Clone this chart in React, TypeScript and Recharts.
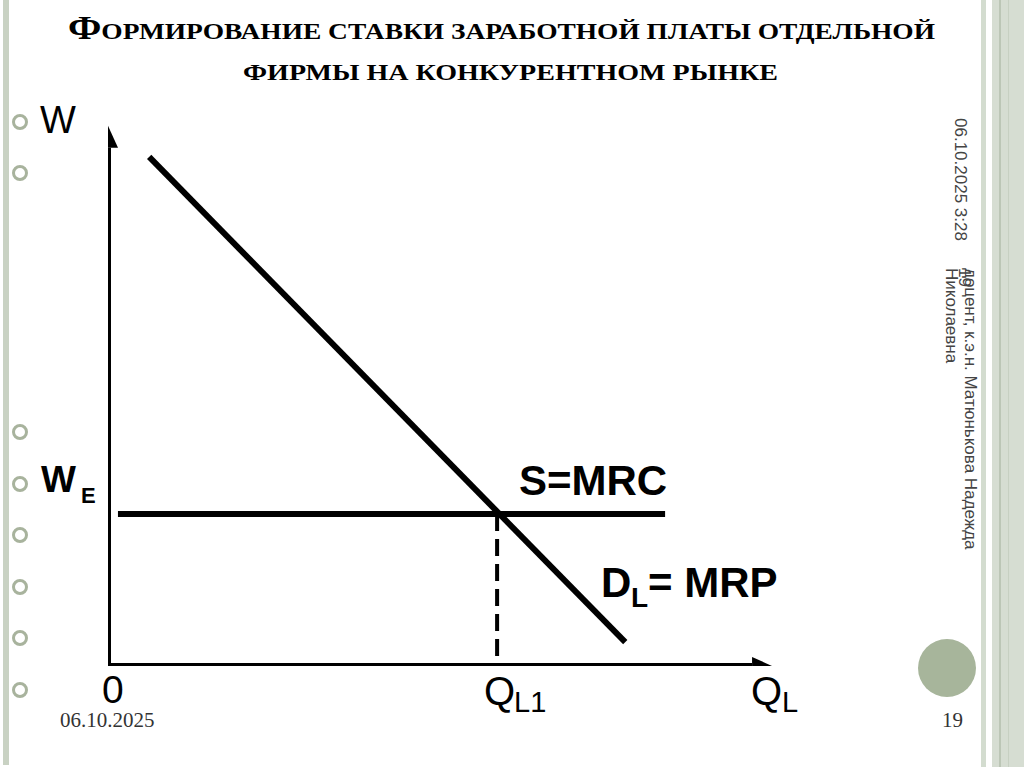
import React from "react";
import { ComposedChart, Line, XAxis, YAxis } from "recharts";

// ---- data (x: labour quantity in % of axis, y: wage in % of axis) ----
const demandCurve = [
  { x: 6.2, y: 94.1 },
  { x: 77.9, y: 4.4 },
];
const supplyCurve = [
  { x: 1.5, y: 28.1 },
  { x: 83.9, y: 28.1 },
];
const equilibriumDrop = [
  { x: 58.6, y: 28.1 },
  { x: 58.6, y: 0 },
];
const xAxisLine = [
  { x: -0.6, y: 0 },
  { x: 97.0, y: 0 },
];
const yAxisLine = [
  { x: 0, y: -0.6 },
  { x: 0, y: 95.8 },
];

const titleFirst = "Ф";
const titleRest1 = "ормирование ставки заработной платы отдельной";
const titleLine2 = "фирмы на конкурентном рынке";
const bulletYs = [122, 173, 432, 484, 535, 587, 638, 690];

const arrowRight = (props: any) => {
  const { cx, cy, index } = props;
  if (index !== 1) return <g key={`ar-${index}`} />;
  return (
    <polygon
      key={`ar-${index}`}
      points={`${cx},${cy - 9} ${cx + 20},${cy} ${cx},${cy + 9}`}
      fill="#000"
    />
  );
};
const arrowUp = (props: any) => {
  const { cx, cy, index } = props;
  if (index !== 1) return <g key={`au-${index}`} />;
  return (
    <polygon
      key={`au-${index}`}
      points={`${cx - 10},${cy} ${cx},${cy - 22} ${cx + 10},${cy}`}
      fill="#000"
    />
  );
};

const sans = "'Liberation Sans', Arial, sans-serif";
const narrow = "'Liberation Sans Narrow', 'Liberation Sans', Arial, sans-serif";
const serif = "'Liberation Serif', 'Times New Roman', serif";

const titleStyle: React.CSSProperties = {
  fontFamily: serif,
  fontWeight: 700,
  fontSize: 24,
  textTransform: "uppercase",
};
const sideStyle: React.CSSProperties = {
  fontFamily: sans,
  fontSize: 17,
  fill: "#444",
};

export default function App() {
  return (
    <div
      style={{
        position: "absolute",
        left: 0,
        top: 0,
        width: 1024,
        height: 767,
        background: "#fff",
        overflow: "hidden",
      }}
    >
      <svg
        width={1024}
        height={767}
        style={{ position: "absolute", left: 0, top: 0 }}
      >
        {/* slide decorations */}
        <rect x={3} y={0} width={6} height={765} fill="#c9d2c3" />
        <rect x={981} y={0} width={5} height={767} fill="#d3dccf" />
        <rect x={992} y={0} width={32} height={767} fill="#d6ddd2" />
        <rect x={999} y={0} width={2} height={767} fill="#bcc6b6" />
        <rect x={1008} y={0} width={1} height={767} fill="#c7d0c2" />
        {bulletYs.map((y) => (
          <circle
            key={y}
            cx={20}
            cy={y}
            r={6.5}
            fill="none"
            stroke="#a8b39d"
            strokeWidth={3}
          />
        ))}
        <circle cx={947} cy={668} r={29} fill="#a7b59b" />

        {/* title */}
        <text x={68} y={39} textLength={867} lengthAdjust="spacingAndGlyphs" style={titleStyle}>
          <tspan style={{ fontSize: 34 }}>{titleFirst}</tspan>
          <tspan>{titleRest1}</tspan>
        </text>
        <text x={243} y={80} textLength={535} lengthAdjust="spacingAndGlyphs" style={titleStyle}>
          {titleLine2}
        </text>

        {/* axis captions */}
        <text x={40} y={133} style={{ fontFamily: narrow, fontSize: 38 }}>
          W
        </text>
        <text x={41} y={492} style={{ fontFamily: sans, fontWeight: 700, fontSize: 37 }}>
          W
        </text>
        <text x={81} y={503} style={{ fontFamily: sans, fontWeight: 700, fontSize: 22 }}>
          E
        </text>
        <text x={102} y={703} style={{ fontFamily: narrow, fontSize: 39 }}>
          0
        </text>
        <text x={484} y={705} style={{ fontFamily: narrow, fontSize: 40 }}>
          Q
        </text>
        <text x={514} y={712} style={{ fontFamily: narrow, fontSize: 29 }}>
          L1
        </text>
        <text x={751} y={705} style={{ fontFamily: narrow, fontSize: 40 }}>
          Q
        </text>
        <text x={782} y={712} style={{ fontFamily: narrow, fontSize: 29 }}>
          L
        </text>

        {/* curve labels */}
        <text x={519} y={495} style={{ fontFamily: sans, fontWeight: 700, fontSize: 42 }}>
          S=MRC
        </text>
        <text x={601} y={597} style={{ fontFamily: sans, fontWeight: 700, fontSize: 42 }}>
          D
        </text>
        <text x={631} y={607} style={{ fontFamily: sans, fontWeight: 700, fontSize: 28 }}>
          L
        </text>
        <text x={648} y={597} style={{ fontFamily: sans, fontWeight: 700, fontSize: 42 }}>
          = MRP
        </text>

        {/* footer */}
        <text x={60} y={727} style={{ fontFamily: serif, fontSize: 21, fill: "#333" }}>
          06.10.2025
        </text>
        <text x={942} y={727} style={{ fontFamily: serif, fontSize: 21, fill: "#333" }}>
          19
        </text>

        {/* vertical side notes */}
        <text transform="translate(955,118) rotate(90)" style={sideStyle}>
          06.10.2025 3:28
        </text>
        <text transform="translate(965,268) rotate(90)" style={sideStyle}>
          доцент, к.э.н. Матюнькова Надежда
        </text>
        <text transform="translate(946,268) rotate(90)" style={sideStyle}>
          Николаевна
        </text>
        <text transform="translate(959,268) rotate(90)" style={sideStyle}>
          19
        </text>
      </svg>

      <div style={{ position: "absolute", left: 0, top: 0 }}>
        <ComposedChart
          width={1024}
          height={767}
          margin={{ left: 108, right: 252, top: 125, bottom: 101 }}
        >
          <XAxis dataKey="x" type="number" domain={[0, 100]} hide allowDataOverflow />
          <YAxis dataKey="y" type="number" domain={[0, 100]} hide allowDataOverflow />
          <Line
            data={xAxisLine}
            dataKey="y"
            stroke="#000"
            strokeWidth={6}
            dot={arrowRight}
            activeDot={false}
            isAnimationActive={false}
          />
          <Line
            data={yAxisLine}
            dataKey="y"
            stroke="#000"
            strokeWidth={6}
            dot={arrowUp}
            activeDot={false}
            isAnimationActive={false}
          />
          <Line
            data={equilibriumDrop}
            dataKey="y"
            stroke="#000"
            strokeWidth={4}
            strokeDasharray="17 8"
            dot={false}
            activeDot={false}
            isAnimationActive={false}
          />
          <Line
            data={supplyCurve}
            dataKey="y"
            stroke="#000"
            strokeWidth={6}
            dot={false}
            activeDot={false}
            isAnimationActive={false}
          />
          <Line
            data={demandCurve}
            dataKey="y"
            stroke="#000"
            strokeWidth={6}
            dot={false}
            activeDot={false}
            isAnimationActive={false}
          />
        </ComposedChart>
      </div>
    </div>
  );
}
